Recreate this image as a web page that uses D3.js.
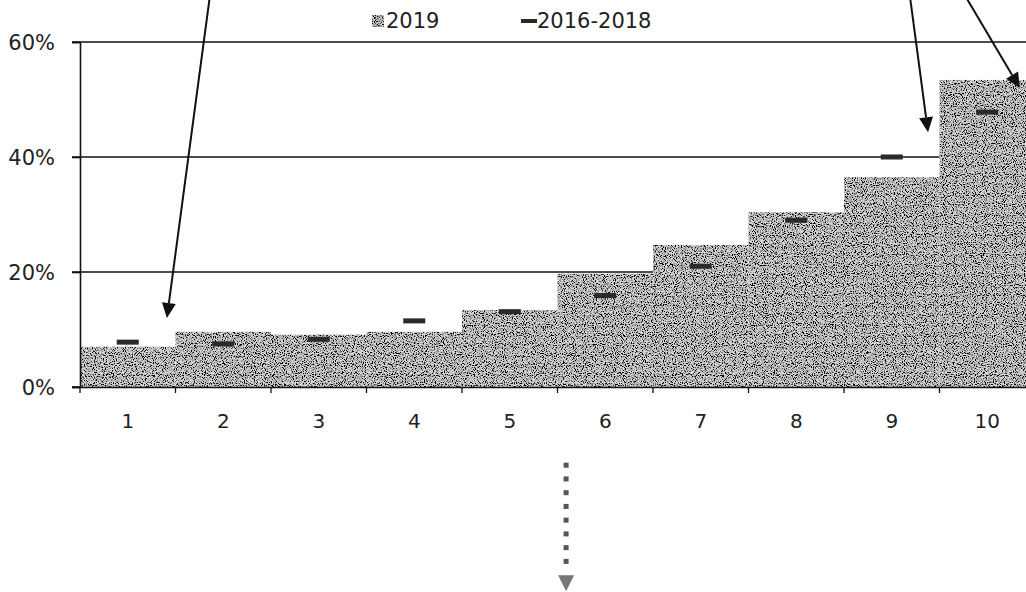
<!DOCTYPE html>
<html><head><meta charset="utf-8">
<script src="https://cdn.jsdelivr.net/npm/d3@7"></script>
<style>html,body{margin:0;padding:0;background:#fff;overflow:hidden}</style>
</head><body>
<svg id="c" width="1026" height="592"></svg>
<script>
const categories = ["1","2","3","4","5","6","7","8","9","10"];
const values2019 = [7.0, 9.6, 9.1, 9.6, 13.4, 19.7, 24.7, 30.4, 36.5, 53.4];
const values2016_2018 = [7.8, 7.5, 8.3, 11.5, 13.1, 15.9, 21.0, 29.0, 40.0, 47.8];
const yTicks = [0, 20, 40, 60];
const legendLabels = ["2019", "2016-2018"];
// annotation arrows: [start position (category units), start value, tip position, tip value]
const arrowStarts = [[1.36, 68], [8.69, 68], [9.27, 68]];
const arrowTips = [[0.91, 12], [8.88, 44.3], [9.84, 52]];
const dottedArrow = [[5.09, -13.6], [5.09, -35.5]];

const svg = d3.select("#c");
const mLeft = 80, mRight = 1035, mTop = 42, mBottom = 387;
const x = d3.scaleBand().domain(categories).range([mLeft, mRight]).padding(0);
const xPos = d3.scaleLinear().domain([0, categories.length]).range([mLeft, mRight]);
const y = d3.scaleLinear().domain([0, 60]).range([mBottom, mTop]);
const font = "'DejaVu Sans', sans-serif";

const defs = svg.append("defs");
const f = defs.append("filter").attr("id", "grain")
  .attr("filterUnits", "userSpaceOnUse").attr("x", 0).attr("y", 0).attr("width", 1026).attr("height", 592);
f.append("feTurbulence").attr("type", "fractalNoise").attr("baseFrequency", 0.9)
  .attr("numOctaves", 1).attr("seed", 7).attr("result", "noise");
f.append("feColorMatrix").attr("in", "noise").attr("type", "matrix")
  .attr("values", "0 0 0 0 0  0 0 0 0 0  0 0 0 0 0  6 0 0 0 -2.75").attr("result", "dots");
f.append("feComposite").attr("in", "dots").attr("in2", "SourceGraphic").attr("operator", "in").attr("result", "clip");
const m = f.append("feMerge");
m.append("feMergeNode").attr("in", "SourceGraphic");
m.append("feMergeNode").attr("in", "clip");

// gridlines (behind bars)
svg.append("g").selectAll("line").data(yTicks.filter(t => t > 0)).join("line")
  .attr("x1", mLeft - 8).attr("x2", 1026)
  .attr("y1", d => y(d)).attr("y2", d => y(d))
  .attr("stroke", "#111").attr("stroke-width", 1.6);

// bars
const barG = svg.append("g").attr("filter", "url(#grain)");
barG.selectAll("rect").data(values2019).join("rect")
  .attr("x", (d, i) => x(categories[i]))
  .attr("y", d => y(d))
  .attr("width", x.bandwidth())
  .attr("height", d => y(0) - y(d))
  .attr("fill", "#d4d4d4");

// y axis
const yAxis = svg.append("g").attr("transform", `translate(${mLeft},0)`)
  .call(d3.axisLeft(y).tickValues(yTicks).tickSize(8).tickFormat(d => d + "%"));
yAxis.select(".domain").attr("stroke", "#111").attr("stroke-width", 1.6);
yAxis.selectAll(".tick line").attr("stroke", "#111").attr("stroke-width", 1.6);
yAxis.selectAll(".tick text").attr("x", -25).attr("dy", "0.36em")
  .attr("font-family", font).attr("font-size", 21).attr("fill", "#222");

// x axis
const xAxis = svg.append("g").attr("transform", `translate(0,${mBottom})`)
  .call(d3.axisBottom(x).tickSize(0).tickPadding(27));
xAxis.select(".domain").attr("stroke", "#111").attr("stroke-width", 1.6);
xAxis.selectAll(".tick text").attr("font-family", font).attr("font-size", 20).attr("fill", "#222");
svg.append("line").attr("x1", mLeft - 8).attr("x2", mLeft).attr("y1", mBottom).attr("y2", mBottom)
  .attr("stroke", "#111").attr("stroke-width", 1.6);
svg.append("g").selectAll("line").data(d3.range(categories.length + 1)).join("line")
  .attr("x1", d => xPos(d)).attr("x2", d => xPos(d))
  .attr("y1", mBottom).attr("y2", mBottom + 6)
  .attr("stroke", "#111").attr("stroke-width", 1.3);

// 2016-2018 markers
svg.append("g").selectAll("rect").data(values2016_2018).join("rect")
  .attr("x", (d, i) => x(categories[i]) + x.bandwidth() / 2 - 11)
  .attr("y", d => y(d) - 2.5)
  .attr("width", 22).attr("height", 5)
  .attr("fill", "#2a2a2a");

// legend
const lg = svg.append("g");
lg.append("rect").attr("x", 372).attr("y", 15).attr("width", 12).attr("height", 12)
  .attr("fill", "#c8c8c8").attr("filter", "url(#grain)");
lg.append("text").attr("x", 386).attr("y", 28).text(legendLabels[0])
  .attr("font-family", font).attr("font-size", 21).attr("fill", "#222");
lg.append("rect").attr("x", 521).attr("y", 19).attr("width", 16).attr("height", 4).attr("fill", "#2a2a2a");
lg.append("text").attr("x", 537).attr("y", 28).text(legendLabels[1])
  .attr("font-family", font).attr("font-size", 21).attr("fill", "#222");

// arrows
function arrow(p0, p1, dotted) {
  const x0 = xPos(p0[0]), y0 = y(p0[1]), x1 = xPos(p1[0]), y1 = y(p1[1]);
  const ang = Math.atan2(y1 - y0, x1 - x0);
  const hl = dotted ? 16 : 15, hw = dotted ? 8 : 7;
  const bx = x1 - hl * Math.cos(ang), by = y1 - hl * Math.sin(ang);
  const nx = -Math.sin(ang), ny = Math.cos(ang);
  const g = svg.append("g");
  if (dotted) {
    const n = 8;
    for (let k = 0; k < n; k++) {
      const t = k / n;
      const cx = x0 + (bx - x0) * t, cy = y0 + (by - y0) * t;
      g.append("rect").attr("x", cx - 2.5).attr("y", cy - 2.5).attr("width", 5).attr("height", 5)
        .attr("fill", "#555");
    }
  } else {
    g.append("line").attr("x1", x0).attr("y1", y0).attr("x2", bx).attr("y2", by)
      .attr("stroke", "#111").attr("stroke-width", 2);
  }
  g.append("path").attr("d", `M${x1},${y1}L${bx + nx * hw},${by + ny * hw}L${bx - nx * hw},${by - ny * hw}Z`)
    .attr("fill", dotted ? "#777" : "#111");
}
arrowStarts.forEach((s, i) => arrow(s, arrowTips[i], false));
arrow(dottedArrow[0], dottedArrow[1], true);
</script>
</body></html>
